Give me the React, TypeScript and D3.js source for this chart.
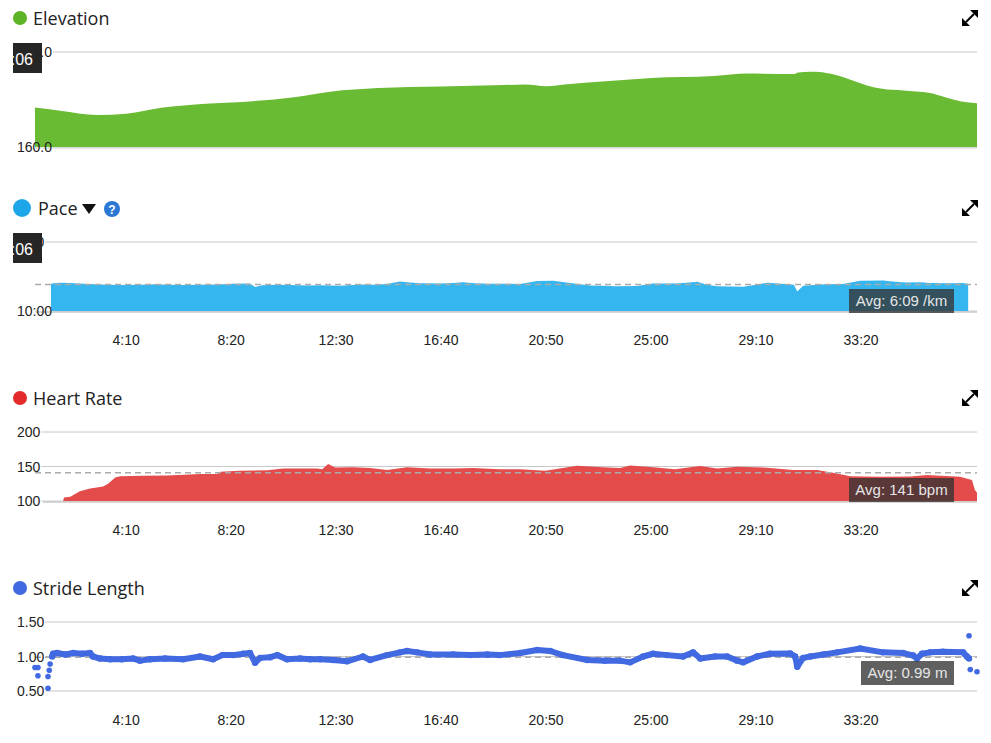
import React from 'react';
import * as d3 from 'd3';

// 시간(초), 값
const elevation: [number, number][] = [
  [33, 176.6], [93, 175.3], [181, 173.5], [250, 174.0], [338, 176.6], [450, 178.3],
  [552, 179.3], [650, 181.0], [736, 183.3], [850, 184.8], [1000, 185.5], [1150, 186.1],
  [1200, 186.3], [1250, 185.6], [1300, 186.4], [1400, 187.8], [1500, 189.1], [1650, 189.9],
  [1730, 190.9], [1840, 190.7], [1850, 191.4], [1880, 191.7], [1900, 191.6], [1933, 190.6],
  [1980, 188.0], [2014, 185.9], [2050, 184.5], [2100, 183.8], [2164, 182.7], [2200, 181.0],
  [2252, 178.8], [2276, 178.4],
];

// 페이스 (초/km)
const pace: [number, number][] = [
  [71, 368], [76, 359], [95, 355], [117, 357], [148, 362], [188, 370], [236, 374], [283, 372],
  [320, 368], [348, 371], [390, 374], [426, 372], [467, 370], [505, 363], [545, 360], [557, 392],
  [574, 376], [610, 372], [640, 374], [680, 378], [712, 377], [760, 381], [807, 370], [840, 372],
  [871, 366], [902, 343], [925, 352], [950, 358], [998, 360], [1030, 356], [1052, 350], [1080, 358],
  [1110, 364], [1150, 362], [1188, 366], [1229, 340], [1267, 336], [1307, 356], [1355, 378],
  [1385, 381], [1414, 384], [1467, 382], [1505, 360], [1557, 360], [1585, 355], [1610, 346],
  [1630, 370], [1657, 385], [1719, 389], [1750, 372], [1776, 355], [1819, 365], [1840, 372],
  [1848, 430], [1862, 380], [1914, 368], [1957, 366], [1998, 336], [2052, 334], [2080, 345],
  [2105, 352], [2140, 350], [2164, 356], [2212, 358], [2240, 356], [2255, 362],
];

// 심박수 (bpm)
const heartRate: [number, number][] = [
  [52, 100], [100, 100], [102, 105], [117, 106], [140, 114], [164, 118], [195, 121], [207, 125],
  [224, 134], [236, 136], [290, 136.5], [348, 137], [426, 139], [467, 139], [474, 142.5],
  [521, 144], [586, 144.5], [624, 147], [705, 147], [717, 146], [731, 153.6], [748, 148.5],
  [790, 148.8], [831, 148], [871, 145], [919, 149], [974, 147], [1029, 147], [1076, 148],
  [1140, 146], [1188, 146], [1248, 144], [1324, 151], [1386, 149], [1426, 148], [1450, 151.6],
  [1505, 149], [1557, 146], [1617, 150.7], [1657, 147], [1705, 149.7], [1776, 148.3],
  [1838, 145], [1895, 145], [1933, 141], [1974, 136], [2045, 135], [2117, 135.5], [2157, 137.7],
  [2236, 135], [2264, 130.4], [2271, 116], [2276, 112],
];

// 보폭 (m)
const stride: [number, number][] = [
  [74, 1.00], [76, 1.04], [86, 1.05], [105, 1.03], [124, 1.05], [145, 1.04], [164, 1.05],
  [171, 1.00], [188, 0.97], [212, 0.96], [240, 0.96], [267, 0.97], [283, 0.94], [307, 0.96],
  [343, 0.97], [386, 0.96], [426, 1.00], [457, 0.96], [479, 1.02], [505, 1.02], [529, 1.04],
  [545, 1.05], [557, 0.91], [569, 0.98], [593, 0.99], [610, 1.02], [633, 0.96], [664, 0.97],
  [688, 0.96], [712, 0.96], [743, 0.95], [776, 0.93], [814, 1.00], [831, 0.95], [871, 1.02],
  [902, 1.06], [919, 1.08], [943, 1.06], [974, 1.03], [1029, 1.03], [1069, 1.02], [1110, 1.03],
  [1140, 1.02], [1188, 1.05], [1229, 1.095], [1260, 1.08], [1290, 1.02], [1348, 0.95],
  [1390, 0.94], [1426, 0.94], [1450, 0.915], [1481, 1.00], [1505, 1.04], [1538, 1.02],
  [1576, 1.00], [1600, 1.06], [1617, 0.97], [1652, 1.00], [1681, 1.00], [1705, 0.94],
  [1719, 0.915], [1752, 1.00], [1783, 1.04], [1831, 1.045], [1843, 1.00], [1848, 0.85],
  [1862, 0.98], [1879, 1.00], [1910, 1.03], [1943, 1.06], [1998, 1.115], [2052, 1.06],
  [2100, 1.05], [2124, 1.015], [2133, 0.97], [2145, 1.04], [2164, 1.06], [2195, 1.07],
  [2243, 1.06], [2252, 1.00], [2257, 0.97],
];
const strideOutliers: [number, number][] = [
  [33, 0.84], [40, 0.84], [40, 0.72], [64, 0.54], [64, 0.71], [67, 0.80], [69, 0.89],
  [2257, 1.30], [2260, 0.81], [2276, 0.78],
];

const xTicks = [250, 500, 750, 1000, 1250, 1500, 1750, 2000];
const xTickLabels = ['4:10', '8:20', '12:30', '16:40', '20:50', '25:00', '29:10', '33:20'];

const elevationTicks = ['200.0', '160.0'];
const paceTicks = ['0:00', '10:00'];
const hrTicks = ['200', '150', '100'];
const strideTicks = ['1.50', '1.00', '0.50'];

const AVG_PACE = 369;
const AVG_HR = 141;
const AVG_STRIDE = 0.99;

const LEFT = 35;
const RIGHT = 977;
const AXIS_FONT = '"Liberation Sans", Arial, sans-serif';
const TITLE_FONT = '"Open Sans", "Noto Sans", sans-serif';

const x = d3.scaleLinear().domain([33, 2276]).range([LEFT, RIGHT]);

const textW = (s: string) =>
  s.split('').reduce((w, c) => w + (c === '.' || c === ':' ? 3.9 : 7.8), 0);

const ExpandIcon: React.FC<{ y: number }> = ({ y }) => (
  <g transform={`translate(970,${y})`}>
    <line x1={-4} y1={4} x2={4} y2={-4} stroke="#000" strokeWidth={2} />
    <polygon points="0,-8 8,-8 8,0" fill="#000" />
    <polygon points="-8,0 -8,8 0,8" fill="#000" />
  </g>
);

const Title: React.FC<{ y: number; color: string; label: string; r?: number; cx?: number; tx?: number }> = ({ y, color, label, r = 7, cx = 20, tx = 33 }) => (
  <g>
    <circle cx={cx} cy={y - 7} r={r} fill={color} />
    <text x={tx} y={y} fontFamily={TITLE_FONT} fontSize={18} fill="#222">{label}</text>
  </g>
);

const YTicks: React.FC<{ labels: string[]; ys: number[] }> = ({ labels, ys }) => (
  <g>
    {labels.map((l, i) => (
      <line key={l} x1={17 + textW(l) + 1} x2={RIGHT} y1={ys[i]} y2={ys[i]} stroke="#c8c8c8" strokeWidth={1} />
    ))}
  </g>
);

const YLabels: React.FC<{ labels: string[]; ys: number[] }> = ({ labels, ys }) => (
  <g>
    {labels.map((l, i) => (
      <text key={l} x={17} y={ys[i] + 5} fontFamily={AXIS_FONT} fontSize={14} fill="#222">{l}</text>
    ))}
  </g>
);

const XAxis: React.FC<{ y: number }> = ({ y }) => (
  <g>
    {xTicks.map((t, i) => (
      <text key={t} x={x(t)} y={y} textAnchor="middle" fontFamily={AXIS_FONT} fontSize={14} fill="#222">
        {xTickLabels[i]}
      </text>
    ))}
  </g>
);

const AvgBox: React.FC<{ y: number; w: number; label: string }> = ({ y, w, label }) => (
  <g>
    <rect x={954 - w} y={y} width={w} height={24} fill="rgba(51,51,51,0.78)" />
    <text x={954 - w / 2} y={y + 17} textAnchor="middle" fontFamily={AXIS_FONT} fontSize={15} fill="#e6e6e6">{label}</text>
  </g>
);

const HoverTag: React.FC<{ y: number; id: string }> = ({ y, id }) => (
  <g>
    <clipPath id={id}>
      <rect x={13} y={y} width={29} height={30} />
    </clipPath>
    <rect x={13} y={y} width={29} height={30} fill="#262626" />
    <text x={33} y={y + 22} textAnchor="end" fontFamily={AXIS_FONT} fontSize={16} fill="#fff" clipPath={`url(#${id})`}>0:06</text>
  </g>
);

const AvgLine: React.FC<{ y: number }> = ({ y }) => (
  <line x1={LEFT} x2={RIGHT} y1={y} y2={y} stroke="#aaa" strokeWidth={1.5} strokeDasharray="6,4" />
);

export default function App() {
  // Elevation
  const yElev = d3.scaleLinear().domain([160, 200]).range([147, 52]);
  const elevArea = d3.area<[number, number]>()
    .x(d => x(d[0])).y0(147).y1(d => yElev(d[1])).curve(d3.curveMonotoneX);

  // Pace
  const yPace = d3.scaleLinear().domain([0, 600]).range([242, 311]);
  const paceArea = d3.area<[number, number]>()
    .x(d => x(d[0])).y0(311).y1(d => yPace(d[1]));

  // Heart rate
  const yHr = d3.scaleLinear().domain([100, 200]).range([501, 432]);
  const hrArea = d3.area<[number, number]>()
    .x(d => x(d[0])).y0(501).y1(d => yHr(d[1]));

  // Stride
  const yStride = d3.scaleLinear().domain([0.5, 1.5]).range([691, 622]);
  const strideLine = d3.line<[number, number]>()
    .x(d => x(d[0])).y(d => yStride(d[1]));

  return (
    <svg width={991} height={743} style={{ position: 'absolute', left: 0, top: 0, background: '#fff' }}>
      {/* Elevation */}
      <Title y={25} color="#5db526" label="Elevation" />
      <ExpandIcon y={18} />
      <YTicks labels={elevationTicks} ys={[yElev(200), yElev(160)]} />
      <path d={elevArea(elevation) || ''} fill="#6abb34" />
      <line x1={LEFT} x2={RIGHT} y1={148} y2={148} stroke="#d0d0d0" />
      <YLabels labels={elevationTicks} ys={[yElev(200), yElev(160)]} />
      <HoverTag y={43} id="clip-elev" />

      {/* Pace */}
      <Title y={215} color="#1ea7e8" label="Pace" r={9} cx={22} tx={38} />
      <polygon points="82,204 96,204 89,214" fill="#111" />
      <circle cx={112} cy={209} r={8} fill="#2b78d4" />
      <text x={112} y={214} textAnchor="middle" fontFamily={AXIS_FONT} fontWeight="bold" fontSize={12} fill="#fff">?</text>
      <ExpandIcon y={208} />
      <YTicks labels={paceTicks} ys={[yPace(0), yPace(600)]} />
      <path d={paceArea(pace) || ''} fill="#35b6ee" />
      <line x1={LEFT} x2={RIGHT} y1={312} y2={312} stroke="#c8c8c8" strokeWidth={1.5} />
      <AvgLine y={yPace(AVG_PACE)} />
      <YLabels labels={paceTicks} ys={[yPace(0), yPace(600)]} />
      <HoverTag y={233} id="clip-pace" />
      <AvgBox y={289} w={105} label="Avg: 6:09 /km" />
      <XAxis y={345} />

      {/* Heart Rate */}
      <Title y={405} color="#e32b2b" label="Heart Rate" />
      <ExpandIcon y={398} />
      <YTicks labels={hrTicks} ys={[yHr(200), yHr(150), yHr(100)]} />
      <path d={hrArea(heartRate) || ''} fill="#e44c4c" />
      <line x1={LEFT + 8} x2={RIGHT} y1={502} y2={502} stroke="#c8c8c8" strokeWidth={1.5} />
      <AvgLine y={yHr(AVG_HR)} />
      <YLabels labels={hrTicks} ys={[yHr(200), yHr(150), yHr(100)]} />
      <AvgBox y={478} w={105} label="Avg: 141 bpm" />
      <XAxis y={535} />

      {/* Stride Length */}
      <Title y={595} color="#4169e1" label="Stride Length" />
      <ExpandIcon y={588} />
      <YTicks labels={strideTicks} ys={[yStride(1.5), yStride(1.0), yStride(0.5)]} />
      <AvgLine y={yStride(AVG_STRIDE)} />
      <path d={strideLine(stride) || ''} fill="none" stroke="#4169e1" strokeWidth={6} strokeLinejoin="round" />
      {stride.map((d, i) => (
        <circle key={i} cx={x(d[0])} cy={yStride(d[1])} r={3.2} fill="#4169e1" />
      ))}
      {strideOutliers.map((d, i) => (
        <circle key={'o' + i} cx={x(d[0])} cy={yStride(d[1])} r={2.8} fill="#4169e1" />
      ))}
      <YLabels labels={strideTicks} ys={[yStride(1.5), yStride(1.0), yStride(0.5)]} />
      <AvgBox y={661} w={93} label="Avg: 0.99 m" />
      <XAxis y={725} />
    </svg>
  );
}
